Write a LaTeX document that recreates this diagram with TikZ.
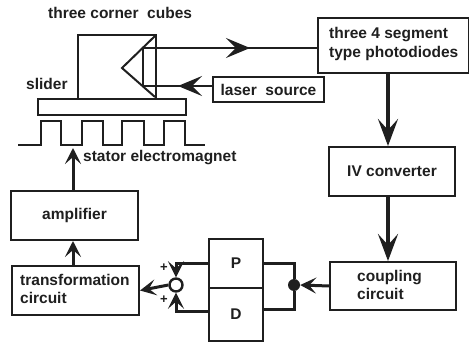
\documentclass[tikz,border=0pt]{standalone}
\usepackage{fontspec}
\setmainfont{Liberation Sans}
\usetikzlibrary{arrows.meta}
\tikzset{
  x=1pt,y=-1pt,
  txt/.style={font=\fontsize{15.5}{18.5}\selectfont\bfseries,text=black!88,inner sep=0pt},
  box/.style={draw=black!88,line width=2pt,fill=white,inner sep=0pt},
  wire/.style={draw=black!88,line width=2pt},
  bigtip/.style={-{Stealth[length=27pt,width=20pt,inset=11pt]},line width=3.4pt,draw=black!88},
  midtip/.style={-{Stealth[length=16pt,width=16pt,inset=7pt]},line width=3pt,draw=black!88},
  thintip/.style={line width=1.4pt,draw=black!88},
  headshape/.style={-{Stealth[length=24pt,width=20pt,inset=10pt]},line width=1.4pt,draw=black!88}
}
\begin{document}
\begin{tikzpicture}
\useasboundingbox (0,0) rectangle (469,342);
% corner cube assembly
\node[box,minimum width=78pt,minimum height=64pt,anchor=north west] (cube) at (77,34) {};
\node[box,minimum width=148pt,minimum height=16.5pt,anchor=north west] (slider) at (37,98) {};
\coordinate (apex) at (122,68);
\coordinate (ctop) at (155,36);
\coordinate (cbot) at (155,97);
\coordinate (frontT) at (143,48);
\coordinate (frontB) at (143,86);
\draw[wire,line join=miter] (ctop) -- (apex) -- (cbot);
\draw[wire] (frontT) -- (frontB);
% stator
\draw[wire,line width=2.2pt] (18,145) -- (41,145) -- (41,121) -- (61,121) -- (61,145) -- (82,145) -- (82,121) -- (103,121) -- (103,145) -- (122,145) -- (122,121) -- (144,121) -- (144,145) -- (164,145) -- (164,121) -- (185,121) -- (185,145) -- (205,145);
\coordinate (statorin) at (73,148);
% boxes
\node[box,minimum width=151pt,minimum height=55pt,anchor=north west] (photo) at (317,17) {};
\node[txt,align=left,anchor=west] (phototext) at (329,44) {three 4 segment\\type photodiodes};
\node[box,minimum width=111pt,minimum height=25pt,anchor=north west,txt,draw=black!88,line width=2pt] (laser) at (212,76) {laser\ \ source};
\node[box,minimum width=126pt,minimum height=49pt,anchor=north west,txt,draw=black!88,line width=2pt] (iv) at (328,146) {IV converter};
\node[box,minimum width=126pt,minimum height=48pt,anchor=north west] (coupling) at (329,261) {};
\node[txt,align=left,anchor=west] (couplingtext) at (357,285) {coupling\\circuit};
\node[box,minimum width=54pt,minimum height=49pt,anchor=north west,txt,draw=black!88,line width=2pt] (P) at (208,238) {P};
\node[box,minimum width=54pt,minimum height=53pt,anchor=north west,txt,draw=black!88,line width=2pt] (D) at (208,287) {D};
\node[box,minimum width=127pt,minimum height=49pt,anchor=north west,txt,draw=black!88,line width=2pt] (amp) at (10,190) {amplifier};
\node[box,minimum width=127pt,minimum height=49pt,anchor=north west] (trans) at (11,265) {};
\node[txt,align=left,anchor=west] (transtext) at (20,289) {transformation\\circuit};
% labels
\node[txt,anchor=west] (cubelabel) at (48,13) {three corner\ \ cubes};
\node[txt,anchor=west] (sliderlabel) at (26,84) {slider};
\node[txt,anchor=west] (statorlabel) at (83,158) {stator electromagnet};
\node[txt,font=\fontsize{13}{13}\selectfont\bfseries] (plusa) at (164,268) {+};
\node[txt,font=\fontsize{13}{13}\selectfont\bfseries] (plusb) at (164,300) {+};
% summing point and branch dot
\node[draw=black!88,line width=2.4pt,circle,minimum size=13pt,inner sep=0pt,fill=white] (sum) at (176,285) {};
\node[fill=black!88,circle,minimum size=12pt,inner sep=0pt] (dot) at (294,285) {};
% connectors
\draw[bigtip] (photo.south -| 388,72) -- (iv.north -| 388,146);
\draw[bigtip] (iv.south -| 388,195) -- (coupling.north -| 388,261);
\draw[midtip] (amp.north -| statorin) -- (statorin);
\draw[midtip] (trans.north -| 73,265) -- (amp.south -| 73,239);
\draw[midtip] (coupling.west) -- (dot.east);
\draw[midtip] (sum.west) -- (trans.east);
\draw[wire,line width=3pt] (P.east |- 0,263) -- (294,263) -- (dot.north);
\draw[wire,line width=3pt] (D.east |- 0,309) -- (294,309) -- (dot.south);
\draw[midtip] (P.west |- 0,263) -- (176,263) -- (sum.north);
\draw[midtip] (D.west |- 0,311) -- (176,311) -- (sum.south);
% optical rays
\coordinate (tiptop) at (250,48);
\coordinate (tiplaser) at (178,86);
\draw[thintip] (frontT) -- (photo.west |- frontT);
\draw[headshape] (226,48) -- (tiptop);
\draw[thintip] (laser.west |- frontB) -- (frontB);
\draw[headshape] (202,86) -- (tiplaser);
\end{tikzpicture}
\end{document}
